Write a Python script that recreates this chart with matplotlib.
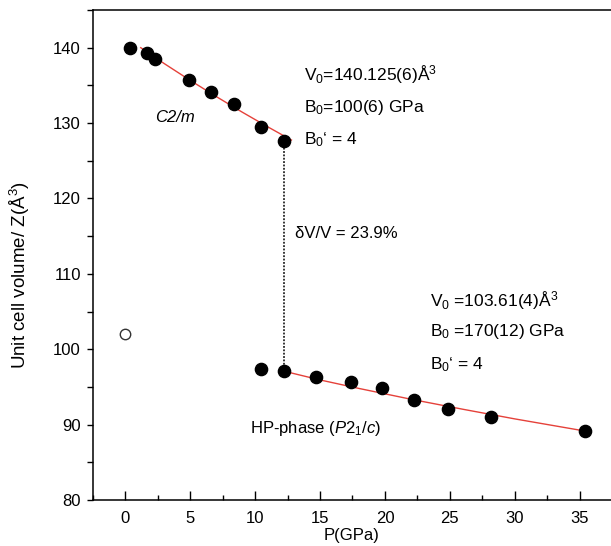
import numpy as np
import matplotlib.pyplot as plt
from matplotlib.ticker import MultipleLocator

plt.rcParams['font.family'] = ['Liberation Sans', 'DejaVu Sans']
plt.rcParams['mathtext.fontset'] = 'custom'
plt.rcParams['mathtext.rm'] = 'Liberation Sans'
plt.rcParams['mathtext.it'] = 'Liberation Sans:italic'

# C2/m phase data
p_c2m = [0.41, 1.69, 2.26, 4.9, 6.57, 8.37, 10.42, 12.22]
v_c2m = [140.0, 139.3, 138.5, 135.7, 134.15, 132.5, 129.5, 127.65]

# HP-phase (P2_1/c) data
p_hp = [10.42, 12.22, 14.7, 17.36, 19.8, 22.23, 24.85, 28.14, 35.4]
v_hp = [97.33, 97.07, 96.35, 95.65, 94.9, 93.26, 92.07, 90.97, 89.15]

# ambient-pressure open symbol
p_open = [0.0]
v_open = [102.0]

# EOS fit curves
p_fit_c2m = [1.2, 3, 5, 7, 9, 11, 12.8]
v_fit_c2m = [140.0, 137.9, 135.67, 133.53, 131.46, 129.48, 127.75]
p_fit_hp = [12.2, 15, 18, 22, 26, 30, 35.4]
v_fit_hp = [97.1, 95.93, 94.8, 93.37, 92.04, 90.76, 89.15]

fig = plt.figure(figsize=(6.11, 5.46), dpi=100)
ax = fig.add_axes([0.1517, 0.0842, 0.8483, 0.8975])

red = '#e5413a'
ax.plot(p_fit_c2m, v_fit_c2m, color=red, lw=1.0, zorder=2)
ax.plot(p_fit_hp, v_fit_hp, color=red, lw=1.0, zorder=2)
ax.plot([p_c2m[-1], p_hp[1]], [v_c2m[-1], v_hp[1]], color='black',
        ls=(0, (1.2, 1.0)), lw=1.1, zorder=1)

ax.plot(p_c2m, v_c2m, 'o', color='black', ms=8.8, zorder=3)
ax.plot(p_hp, v_hp, 'o', color='black', ms=8.8, zorder=3)
ax.plot(p_open, v_open, 'o', mfc='white', mec='#333333', mew=1.0, ms=7.5, zorder=3)

fs = 12
ax.text(2.33, 130.7, 'C2/m', fontsize=fs, style='italic', va='center')
ax.text(13.74, 136.4, 'V$_0$=140.125(6)Å$^3$', fontsize=12.5, va='center')
ax.text(13.74, 132.0, 'B$_0$=100(6) GPa', fontsize=12.5, va='center')
ax.text(13.74, 127.75, 'B$_0$‘ = 4', fontsize=12.5, va='center')
ax.text(13.04, 115.4, 'δV/V = 23.9%', fontsize=fs, va='center')
ax.text(23.5, 106.5, 'V$_0$ =103.61(4)Å$^3$', fontsize=12.5, va='center')
ax.text(23.5, 102.3, 'B$_0$ =170(12) GPa', fontsize=12.5, va='center')
ax.text(23.5, 98.0, 'B$_0$‘ = 4', fontsize=12.5, va='center')
ax.text(9.6, 89.5, 'HP-phase ($\\mathit{P2}_{\\mathit{1}}\\mathit{/c}$)', fontsize=fs, va='center')

ax.set_xlim(-2.5, 37.4)
ax.set_ylim(80, 145)
ax.xaxis.set_major_locator(MultipleLocator(5))
ax.xaxis.set_minor_locator(MultipleLocator(2.5))
ax.yaxis.set_major_locator(MultipleLocator(10))
ax.yaxis.set_minor_locator(MultipleLocator(5))

ax.spines['right'].set_visible(False)
for s in ['left', 'bottom', 'top']:
    ax.spines[s].set_linewidth(1.1)

ax.tick_params(axis='x', which='major', direction='in', length=6.5, width=1.0,
               labelsize=fs, pad=8, top=False)
ax.tick_params(axis='x', which='minor', direction='in', length=3.6, width=1.0, top=False)
ax.tick_params(axis='y', which='major', direction='out', length=4.5, width=1.0,
               labelsize=fs, pad=4, right=False)
ax.tick_params(axis='y', which='minor', direction='out', length=4.5, width=1.0, right=False)

ax.set_xlabel('P(GPa)', fontsize=fs, labelpad=1)
ax.set_ylabel('Unit cell volume/ Z(Å$^3$)', fontsize=13.5)
ax.yaxis.set_label_coords(-0.118, 0.46)

fig.savefig('out.png', dpi=100)
